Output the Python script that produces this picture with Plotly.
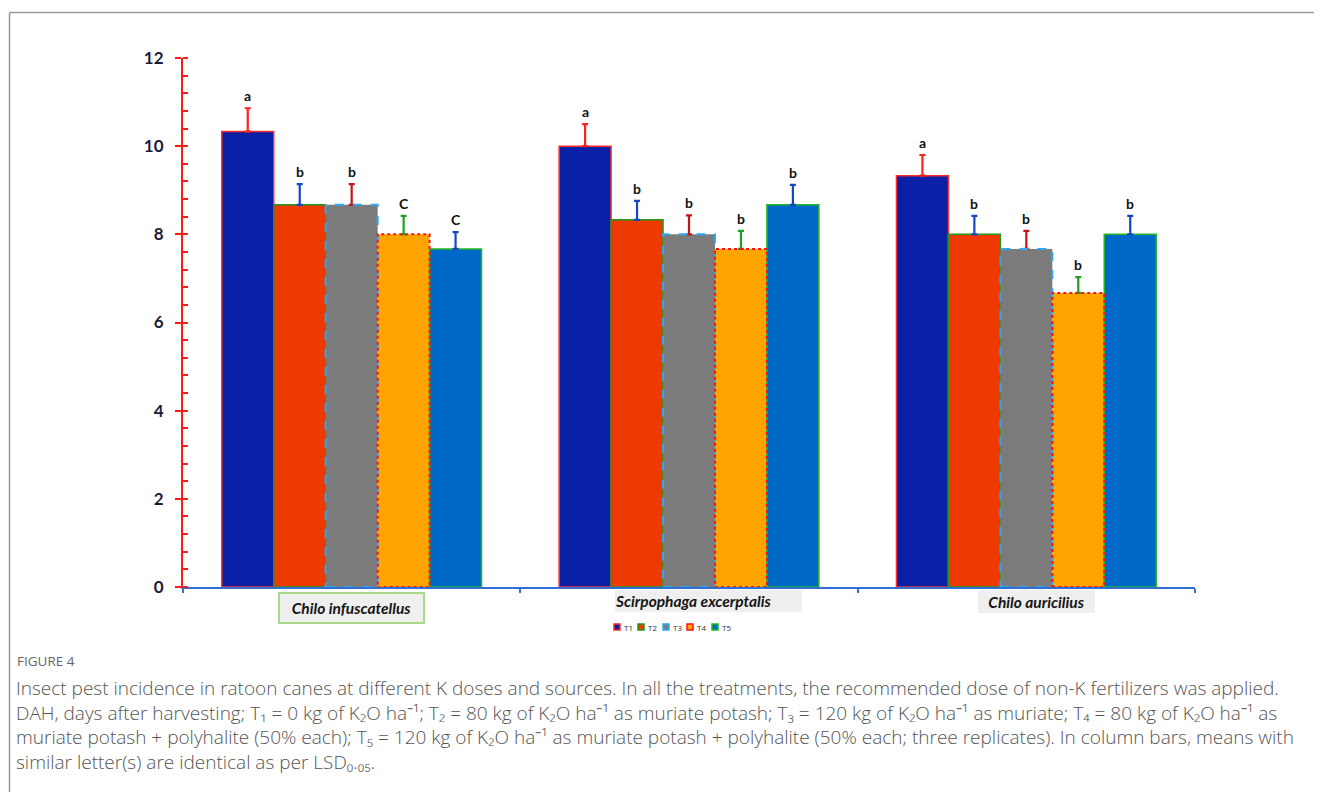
import plotly.graph_objects as go

categories = ["Chilo infuscatellus", "Scirpophaga excerptalis", "Chilo auricilius"]
series_names = ["T1", "T2", "T3", "T4", "T5"]

t1 = [10.33, 10.0, 9.33]
t2 = [8.67, 8.33, 8.0]
t3 = [8.67, 8.0, 7.67]
t4 = [8.0, 7.67, 6.67]
t5 = [7.67, 8.67, 8.0]

e1 = [0.53, 0.50, 0.47]
e2 = [0.47, 0.43, 0.42]
e3 = [0.47, 0.43, 0.41]
e4 = [0.42, 0.41, 0.36]
e5 = [0.38, 0.45, 0.42]

l1 = ["a", "a", "a"]
l2 = ["b", "b", "b"]
l3 = ["b", "b", "b"]
l4 = ["C", "b", "b"]
l5 = ["C", "b", "b"]

values = [t1, t2, t3, t4, t5]
errors = [e1, e2, e3, e4, e5]
letters = [l1, l2, l3, l4, l5]

fills = ["#0a20a6", "#ee3900", "#7b7b7b", "#ffa400", "#0068c6"]
outline = ["#ff2a2a", "#1e9a1e", "#2ea8f5", "#ff1010", "#22b822"]
outline_dash = [None, None, "dash", "dot", None]
err_colors = ["#ff2020", "#1445c4", "#c41414", "#1ea01e", "#1445c4"]

bargap = 0.23
bw = (1 - bargap) / len(series_names)

# page (browser) pixel -> paper coords; plot area spans x 183..1195, y 58..587 on the page
def px(p):
    return (p - 183) / 1012

def py(p):
    return (587 - p) / 529

fig = go.Figure()
for i, name in enumerate(series_names):
    solid = outline_dash[i] is None
    fig.add_trace(go.Bar(
        x=categories, y=values[i], name=name,
        marker=dict(color=fills[i],
                    line=dict(color=outline[i], width=1.5 if solid else 0)),
        error_y=dict(type="data", symmetric=False, array=errors[i],
                     arrayminus=[0] * len(errors[i]),
                     color=err_colors[i], thickness=2.2, width=3),
    ))

shapes = []
annotations = []
for i in range(len(series_names)):
    for g in range(len(categories)):
        xc = g + (i - (len(series_names) - 1) / 2) * bw
        if outline_dash[i] is not None:
            shapes.append(dict(type="rect", xref="x", yref="y",
                               x0=xc - bw / 2, x1=xc + bw / 2, y0=0, y1=values[i][g],
                               line=dict(color=outline[i], width=2, dash=outline_dash[i]),
                               layer="above"))
        annotations.append(dict(x=xc, y=values[i][g] + errors[i][g], xref="x", yref="y",
                                text="<b>%s</b>" % letters[i][g], showarrow=False,
                                yanchor="bottom", yshift=2,
                                font=dict(family="Lato", size=14, color="#111111")))

# category label boxes
box_specs = [
    dict(xshift=0, width=143, height=28, bg="#efefef", border="#a8d88a", bw=2, align="center", yc=608),
    dict(xshift=19, width=187, height=22, bg="#efefef", border="#efefef", bw=0, align="left", yc=601),
    dict(xshift=10, width=117, height=23, bg="#efefef", border="#efefef", bw=0, align="center", yc=601),
]
for g, cat in enumerate(categories):
    s = box_specs[g]
    annotations.append(dict(x=g, xref="x", y=py(s["yc"]), yref="paper", yanchor="middle",
                            xanchor="center",
                            text="<b><i>%s</i></b>" % cat, showarrow=False,
                            xshift=s["xshift"], width=s["width"], height=s["height"],
                            align=s["align"], bgcolor=s["bg"], bordercolor=s["border"],
                            borderwidth=s["bw"], borderpad=0,
                            font=dict(family="Lato", size=15.5, color="#151515")))

# compact legend
legend_x = [617, 641, 666, 690, 715]
legend_y = 627
for i, name in enumerate(series_names):
    cx = legend_x[i]
    shapes.append(dict(type="rect", xref="paper", yref="paper",
                       x0=px(cx - 3), x1=px(cx + 3), y0=py(legend_y + 3), y1=py(legend_y - 3),
                       fillcolor=fills[i],
                       line=dict(color=outline[i], width=1.5)))
    annotations.append(dict(x=px(cx + 5), y=py(legend_y), xref="paper", yref="paper",
                            xanchor="left", yanchor="middle", showarrow=False, text=name,
                            font=dict(family="Open Sans", size=8, color="#333333")))

annotations.append(dict(x=px(15), y=py(661), xref="paper", yref="paper", xanchor="left",
                        yanchor="middle", showarrow=False, text="FIGURE 4",
                        font=dict(family="Open Sans", size=13.5, color="#666666")))
caption_lines = [
    "Insect pest incidence in ratoon canes at different K doses and sources. In all the treatments, the recommended dose of non-K fertilizers was applied.",
    "DAH, days after harvesting; T₁ = 0 kg of K₂O ha⁻¹; T₂ = 80 kg of K₂O ha⁻¹ as muriate potash; T₃ = 120 kg of K₂O ha⁻¹ as muriate; T₄ = 80 kg of K₂O ha⁻¹ as",
    "muriate potash + polyhalite (50% each); T₅ = 120 kg of K₂O ha⁻¹ as muriate potash + polyhalite (50% each; three replicates). In column bars, means with",
    "similar letter(s) are identical as per LSD₀.₀₅.",
]
annotations.append(dict(x=px(15), y=py(674), xref="paper", yref="paper",
                        xanchor="left", yanchor="top", showarrow=False, align="left",
                        borderpad=0, text="<br>".join(caption_lines),
                        font=dict(family="Open Sans", size=19, color="#555555", weight=300)))

# page frame
shapes.append(dict(type="line", xref="paper", yref="paper", x0=px(9.5), x1=px(1330),
                   y0=py(12.5), y1=py(12.5), line=dict(color="#999999", width=1.5)))
shapes.append(dict(type="line", xref="paper", yref="paper", x0=px(9.5), x1=px(9.5),
                   y0=py(12.5), y1=py(800), line=dict(color="#999999", width=1.5)))

# the page body adds an 8px offset, so the figure is 8px smaller and margins 8px tighter
fig.update_layout(
    width=1314, height=784,
    margin=dict(l=175, r=127, t=50, b=205),
    paper_bgcolor="white", plot_bgcolor="white",
    barmode="group", bargap=bargap, bargroupgap=0,
    showlegend=False,
    xaxis=dict(range=[-0.5, 2.5], showticklabels=False, showline=True, linecolor="#2f6fd6",
               linewidth=2, ticks="outside", tickson="boundaries", ticklen=4,
               tickcolor="#2f6fd6", tickwidth=2, showgrid=False, zeroline=False),
    yaxis=dict(range=[0, 12], dtick=2, showline=True, linecolor="#ff1a1a", linewidth=2,
               ticks="outside", ticklen=6, tickwidth=2, tickcolor="#ff1a1a",
               minor=dict(dtick=0.4, ticks="inside", ticklen=5, tickwidth=1.5,
                          tickcolor="#ff1a1a"),
               showgrid=False, zeroline=False, ticklabelstandoff=8,
               tickfont=dict(family="Lato", size=17, color="#1b1b3a", weight="bold")),
    shapes=shapes, annotations=annotations,
)

fig.write_html("out.html")
